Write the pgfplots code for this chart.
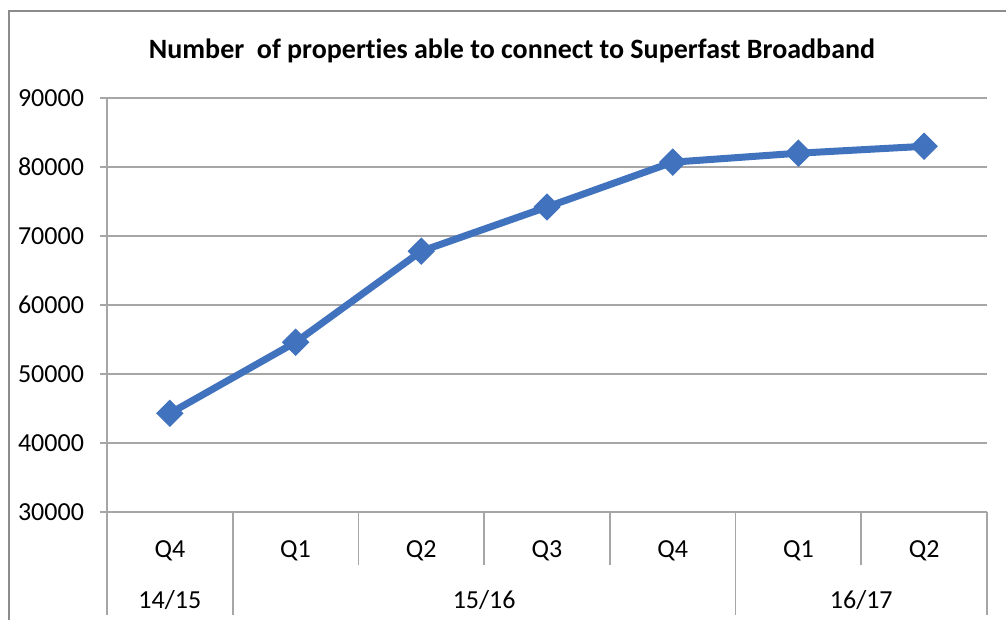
\documentclass[border=0pt]{standalone}
\usepackage{fontspec}
\setmainfont[Ligatures=NoCommon]{Carlito}
\usepackage{pgfplots}
\pgfplotsset{compat=1.18}
\definecolor{linegray}{RGB}{166,166,166}
\definecolor{framegray}{RGB}{140,140,140}
\definecolor{seriesblue}{RGB}{65,114,190}

\begin{document}
\begin{tikzpicture}
\useasboundingbox (0,0) rectangle (503pt,310pt);
\fill[white] (0,0) rectangle (503pt,310pt);
% chart frame (only left and top edges visible)
\draw[framegray, line width=1pt] (4.3pt,0) -- (4.3pt,304.5pt) -- (503pt,304.5pt);
\node[font=\bfseries\fontsize{14}{16}\selectfont] at (256pt,284.5pt)
  {Number\ \ of properties able to connect to Superfast Broadband};

\begin{axis}[
    at={(53.5pt,54pt)}, anchor=south west,
    scale only axis,
    width=440pt, height=207pt,
    xmin=-0.5, xmax=6.5,
    ymin=30000, ymax=90000,
    ytick={30000,40000,50000,60000,70000,80000,90000},
    scaled y ticks=false,
    xtick={0,...,6},
    xticklabels={Q4,Q1,Q2,Q3,Q4,Q1,Q2},
    x tick style={draw=none},
    xticklabel style={yshift=-7.5pt},
    y tick style={linegray, line width=0.8pt},
    tick align=outside,
    major tick length=3.5pt,
    yticklabel style={xshift=-4.5pt},
    axis x line*=bottom, axis y line*=left,
    axis line style={linegray, line width=0.8pt, -},
    ymajorgrids,
    grid style={linegray, line width=0.8pt},
    tick label style={font=\fontsize{13}{15}\selectfont},
    /pgf/number format/.cd, 1000 sep={}, assume math mode=true,
    /pgfplots/.cd,
    clip=false,
]
\addplot[seriesblue, line width=3.5pt, mark=square*,
    mark size=4.6pt, mark options={rotate=45, line width=0.5pt}] coordinates {
    (0,44300) (1,54600) (2,67800) (3,74200) (4,80700) (5,82000) (6,83000)
};
% category separators
\draw[linegray, line width=0.8pt]
    (axis cs:-0.5,30000) -- ++(0pt,-51.5pt)
    (axis cs:0.5,30000) -- ++(0pt,-51.5pt)
    (axis cs:4.5,30000) -- ++(0pt,-51.5pt)
    (axis cs:6.5,30000) -- ++(0pt,-51.5pt)
    (axis cs:1.5,30000) -- ++(0pt,-26.5pt)
    (axis cs:2.5,30000) -- ++(0pt,-26.5pt)
    (axis cs:3.5,30000) -- ++(0pt,-26.5pt)
    (axis cs:5.5,30000) -- ++(0pt,-26.5pt);
\node[font=\fontsize{13}{15}\selectfont] at ([yshift=-44pt]axis cs:0,30000) {14/15};
\node[font=\fontsize{13}{15}\selectfont] at ([yshift=-44pt]axis cs:2.5,30000) {15/16};
\node[font=\fontsize{13}{15}\selectfont] at ([yshift=-44pt]axis cs:5.5,30000) {16/17};
\end{axis}
\end{tikzpicture}
\end{document}
